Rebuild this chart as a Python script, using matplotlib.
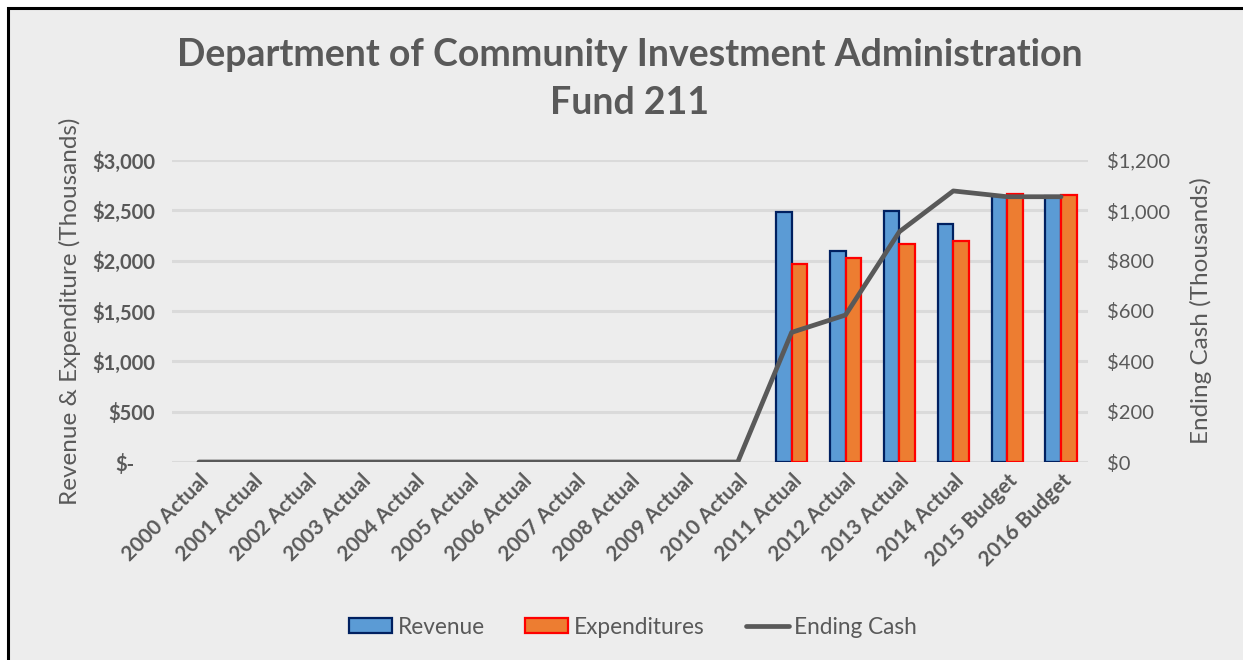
import matplotlib.pyplot as plt
import numpy as np
from matplotlib.patches import Rectangle, Patch
from matplotlib.lines import Line2D

years = ["2000 Actual", "2001 Actual", "2002 Actual", "2003 Actual", "2004 Actual",
         "2005 Actual", "2006 Actual", "2007 Actual", "2008 Actual", "2009 Actual",
         "2010 Actual", "2011 Actual", "2012 Actual", "2013 Actual", "2014 Actual",
         "2015 Budget", "2016 Budget"]
revenue = [0, 0, 0, 0, 0, 0, 0, 0, 0, 0, 0, 2487, 2096, 2493, 2364, 2640, 2640]
expenditures = [0, 0, 0, 0, 0, 0, 0, 0, 0, 0, 0, 1967, 2026, 2169, 2195, 2662, 2652]
ending_cash = [0, 0, 0, 0, 0, 0, 0, 0, 0, 0, 0, 515, 584, 915, 1077, 1054, 1054]

left_ticks = [500, 1000, 1500, 2000, 2500, 3000]
left_labels = ["$500", "$1,000", "$1,500", "$2,000", "$2,500", "$3,000"]
zero_label = "$-"
right_ticks = [0, 200, 400, 600, 800, 1000, 1200]
right_labels = ["$0", "$200", "$400", "$600", "$800", "$1,000", "$1,200"]

plt.rcParams['font.family'] = ['Lato', 'DejaVu Sans']
txt = '#595959'
bg = '#EDEDED'

fig = plt.figure(figsize=(12.43, 6.6), dpi=100)
fig.patch.set_facecolor('white')
# chart frame (cropped at right/bottom)
fig.patches.append(Rectangle((8 / 1243, -0.05), 1.1, 1 - 8 / 660 + 0.05,
                             transform=fig.transFigure, facecolor=bg,
                             edgecolor='black', linewidth=2.2, zorder=-5))

ax = fig.add_axes([172 / 1243, 0.3, (1088 - 172) / 1243, 0.7576 - 0.3])
ax.set_facecolor('none')
ax2 = ax.twinx()

x = np.arange(len(years))
w = 0.29
rev_edge = ['#002060' if v else 'none' for v in revenue]
exp_edge = ['#FF0000' if v else 'none' for v in expenditures]
ax.bar(x - w / 2, revenue, w, color='#5B9BD5', edgecolor=rev_edge, linewidth=1.6, zorder=3)
ax.bar(x + w / 2, expenditures, w, color='#ED7D31', edgecolor=exp_edge, linewidth=1.6, zorder=3)
ax2.plot(x, ending_cash, color=txt, linewidth=3.4, solid_capstyle='round', zorder=4)

ax.set_xlim(-0.5, len(years) - 0.5)
ax.set_ylim(0, 3000)
ax2.set_ylim(0, 1200)
ax.set_yticks(left_ticks)
ax.set_yticklabels(left_labels, fontsize=14.5, fontweight='bold', color=txt)
# "$-" of the accounting format sits left of the digit column -> minor tick with bigger pad
ax.set_yticks([0], minor=True)
ax.set_yticklabels([zero_label], minor=True, fontsize=14.5, fontweight='bold', color=txt)
ax2.set_yticks(right_ticks)
ax2.set_yticklabels(right_labels, fontsize=14.5, color=txt)
ax.set_xticks(x)
ax.set_xticklabels(years, rotation=45, ha='right', rotation_mode='anchor',
                   fontsize=15, fontweight='bold', color=txt)
ax.grid(axis='y', which='both', color='#DADADA', linewidth=2.2, zorder=0)
ax.set_axisbelow(True)
for a in (ax, ax2):
    for s in a.spines.values():
        s.set_visible(False)
    a.tick_params(which='both', length=0)
ax.tick_params(axis='y', which='major', pad=12)
ax.tick_params(axis='y', which='minor', pad=27)
ax.tick_params(axis='x', pad=6)
ax2.tick_params(axis='y', pad=14)

ax.set_ylabel("Revenue & Expenditure (Thousands)", fontsize=17.5, color=txt, labelpad=8)
ax2.set_ylabel("Ending Cash (Thousands)", fontsize=17.5, color=txt, labelpad=14)

cx = 630 / 1243
fig.text(cx, 1 - 55 / 660, "Department of Community Investment Administration",
         ha='center', va='center', fontsize=27, fontweight='bold', color=txt)
fig.text(cx, 1 - 103 / 660, "Fund 211", ha='center', va='center',
         fontsize=27, fontweight='bold', color=txt)

handles = [Patch(facecolor='#5B9BD5', edgecolor='#002060', linewidth=1.6),
           Patch(facecolor='#ED7D31', edgecolor='#FF0000', linewidth=1.6),
           Line2D([], [], color=txt, linewidth=3.4, solid_capstyle='round')]
fig.legend(handles, ["Revenue", "Expenditures", "Ending Cash"], loc='center',
           bbox_to_anchor=(633 / 1243, 1 - 627 / 660), ncol=3, frameon=False,
           fontsize=16.3, labelcolor=txt, handlelength=1.9, handleheight=0.6,
           handletextpad=0.25, columnspacing=1.8)

fig.savefig('out.png', dpi=100, facecolor=fig.get_facecolor())
